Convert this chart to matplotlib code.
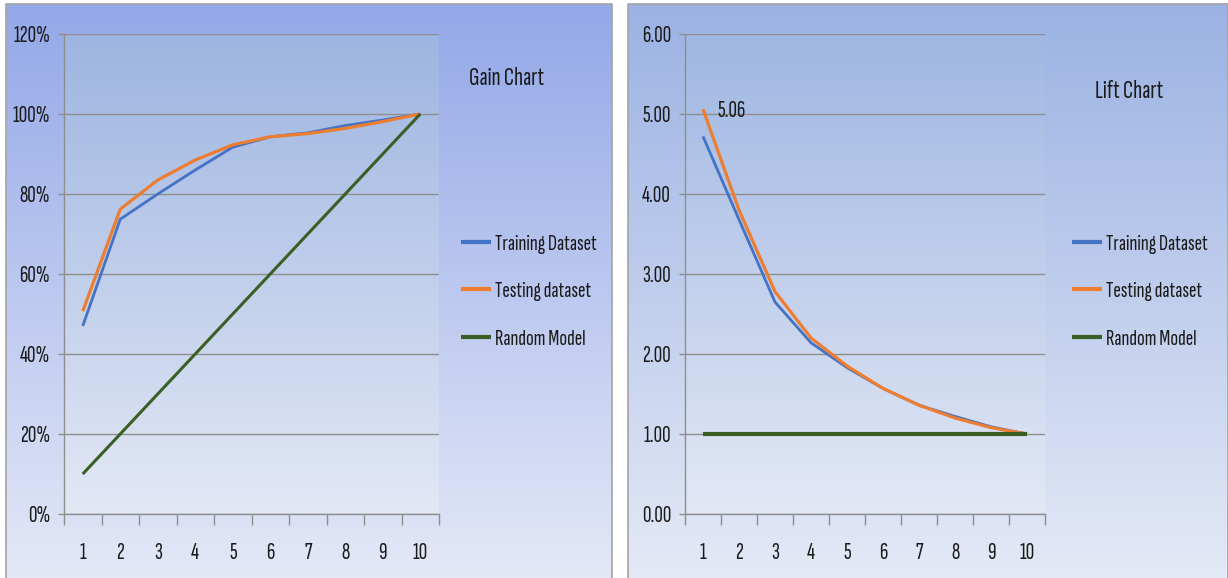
import numpy as np
import matplotlib
matplotlib.use("Agg")
import matplotlib.pyplot as plt
from matplotlib.colors import LinearSegmentedColormap
from matplotlib.ticker import FuncFormatter, FixedLocator

FONT = ['Sofia Sans Extra Condensed', 'Fira Sans Extra Condensed', 'DejaVu Sans']
plt.rcParams['font.family'] = FONT

# ---------------- data ----------------
deciles = [1, 2, 3, 4, 5, 6, 7, 8, 9, 10]
gain_training = [0.47, 0.737, 0.80, 0.86, 0.917, 0.943, 0.953, 0.971, 0.985, 1.00]
gain_testing = [0.507, 0.762, 0.835, 0.885, 0.923, 0.943, 0.951, 0.964, 0.981, 1.00]
gain_random = [0.10, 0.20, 0.30, 0.40, 0.50, 0.60, 0.70, 0.80, 0.90, 1.00]
lift_training = [4.72, 3.68, 2.65, 2.14, 1.83, 1.57, 1.36, 1.22, 1.09, 1.00]
lift_testing = [5.06, 3.80, 2.78, 2.20, 1.85, 1.57, 1.36, 1.20, 1.08, 1.00]
lift_random = [1.00, 1.00, 1.00, 1.00, 1.00, 1.00, 1.00, 1.00, 1.00, 1.00]
gain_ticks = [0.0, 0.2, 0.4, 0.6, 0.8, 1.0, 1.2]
lift_ticks = [0.0, 1.0, 2.0, 3.0, 4.0, 5.0, 6.0]
series_names = ["Training Dataset", "Testing dataset", "Random Model"]

# ---------------- style ----------------
W, H = 1228, 578
C_TRAIN = "#4472C4"
C_TEST = "#ED7D31"
C_RAND = "#3A5F25"
GRID = "#8E8E8E"
TXT = "#1A1A1A"

fig = plt.figure(figsize=(W / 100, H / 100), dpi=100)
fig.patch.set_facecolor("white")
R = fig.canvas.get_renderer()


def fit_size(s, target_px, cap=22):
    t = fig.text(0, 0, s, fontsize=10)
    w = t.get_window_extent(R).width
    t.remove()
    return min(cap, 10 * target_px / w)


FS_TICK = fit_size("120%", 38, 17)
FS_LEG = fit_size("Training Dataset", 102, 18)
FS_TITLE = fit_size("Gain Chart", 75, 19)

# background layer in pixel coordinates
bg = fig.add_axes([0, 0, 1, 1], zorder=-10)
bg.set_xlim(0, W)
bg.set_ylim(H, 0)
bg.axis("off")


def vgrad(ax, x0, x1, y0, y1, ctop, cbot, z):
    cmap = LinearSegmentedColormap.from_list("g", [ctop, cbot])
    grad = np.linspace(0, 1, 256).reshape(-1, 1)
    ax.imshow(grad, cmap=cmap, extent=[x0, x1, y1, y0], aspect="auto",
              zorder=z, interpolation="bicubic")


# panels
vgrad(bg, 6, 612, 4, 578, "#93A8E8", "#E4E8F7", 1)
vgrad(bg, 628, 1228, 4, 578, "#9BB2E3", "#E4E9F6", 1)
# plot areas
vgrad(bg, 64, 439, 34, 514, "#9DB5E1", "#E3E8F5", 2)
vgrad(bg, 685, 1045, 34, 514, "#9FB7E2", "#E3E8F5", 2)
for (x0, x1) in [(6, 612), (628, 1228)]:
    bg.plot([x0, x0, x1, x1], [578, 4, 4, 578], color="#A3A3A3", lw=1.2, zorder=3)
bg.set_xlim(0, W)
bg.set_ylim(H, 0)


def make_axes(px0, px1, py0, py1):
    return fig.add_axes([px0 / W, 1 - py1 / H, (px1 - px0) / W, (py1 - py0) / H])


def style(ax, yticks, ylim, fmt):
    ax.patch.set_alpha(0)
    ax.set_xlim(0.5, 10.5)
    ax.set_ylim(*ylim)
    ax.xaxis.set_major_locator(FixedLocator(deciles))
    ax.xaxis.set_minor_locator(FixedLocator([d - 0.5 for d in deciles] + [10.5]))
    ax.set_yticks(yticks)
    ax.yaxis.set_major_formatter(FuncFormatter(fmt))
    ax.tick_params(axis="x", which="major", length=0, pad=20, labelsize=FS_TICK, labelcolor=TXT)
    ax.tick_params(axis="x", which="minor", length=8, width=1, color=GRID)
    ax.tick_params(axis="y", which="major", length=4, width=1, color=GRID, pad=6,
                   labelsize=FS_TICK, labelcolor=TXT)
    for s in ["top", "right"]:
        ax.spines[s].set_visible(False)
    for s in ["left", "bottom"]:
        ax.spines[s].set_color(GRID)
        ax.spines[s].set_linewidth(1)
    ax.grid(axis="y", color=GRID, lw=1)
    ax.set_axisbelow(True)


fs_px = FS_LEG * 100 / 72
leg_kw = dict(loc="upper left", frameon=False, fontsize=FS_LEG, borderaxespad=0,
              handlelength=30 / fs_px, handletextpad=4 / fs_px,
              labelspacing=max(0.1, (55 - 1.2 * fs_px) / fs_px), borderpad=0,
              labelcolor=TXT)


def place_legend(lg, hx, ry):
    """shift legend so first handle starts at hx and first row is centred at ry (pixels)."""
    fig.canvas.draw()
    hb = lg.legend_handles[0].get_window_extent(R)
    tb = lg.get_texts()[0].get_window_extent(R)
    cur_x = hb.x0
    cur_y = H - (tb.y0 + tb.y1) / 2
    anc = lg.get_bbox_to_anchor()
    ax0 = anc.x0 + (hx - cur_x)
    ay0 = anc.y0 - (ry - cur_y)
    lg.set_bbox_to_anchor((ax0 / W, ay0 / H), transform=fig.transFigure)


# ---------------- gain chart ----------------
ax1 = make_axes(64, 439, 34, 514)
style(ax1, gain_ticks, (0, 1.2), lambda v, p: f"{v * 100:.0f}%")
l1, = ax1.plot(deciles, gain_training, color=C_TRAIN, lw=2.0, solid_capstyle="butt")
l2, = ax1.plot(deciles, gain_testing, color=C_TEST, lw=2.3, solid_capstyle="butt")
l3, = ax1.plot(deciles, gain_random, color=C_RAND, lw=2.2, solid_capstyle="butt")
fig.text(469 / W, 1 - 85 / H, "Gain Chart", fontsize=FS_TITLE, color=TXT, ha="left", va="baseline")
lg1 = fig.legend([l1, l2, l3], series_names, bbox_to_anchor=(461 / W, 1 - 228 / H), **leg_kw)
for h in lg1.legend_handles:
    h.set_linewidth(3)

# ---------------- lift chart ----------------
ax2 = make_axes(685, 1045, 34, 514)
style(ax2, lift_ticks, (0, 6), lambda v, p: f"{v:.2f}")
m1, = ax2.plot(deciles, lift_training, color=C_TRAIN, lw=2.0, solid_capstyle="butt")
m2, = ax2.plot(deciles, lift_testing, color=C_TEST, lw=2.3, solid_capstyle="butt")
m3, = ax2.plot(deciles, lift_random, color=C_RAND, lw=3.0, solid_capstyle="butt")
ax2.annotate(f"{lift_testing[0]:.2f}", xy=(deciles[0], lift_testing[0]),
             xytext=(10, -1), textcoords="offset points", ha="left", va="center",
             fontsize=FS_TICK, color=TXT)
fig.text(1095 / W, 1 - 98 / H, "Lift Chart", fontsize=FS_TITLE, color=TXT, ha="left", va="baseline")
lg2 = fig.legend([m1, m2, m3], series_names, bbox_to_anchor=(1072 / W, 1 - 228 / H), **leg_kw)
for h in lg2.legend_handles:
    h.set_linewidth(3)

place_legend(lg1, 461, 244)
place_legend(lg2, 1072, 244)

fig.savefig("out.png", dpi=100, facecolor=fig.get_facecolor())
